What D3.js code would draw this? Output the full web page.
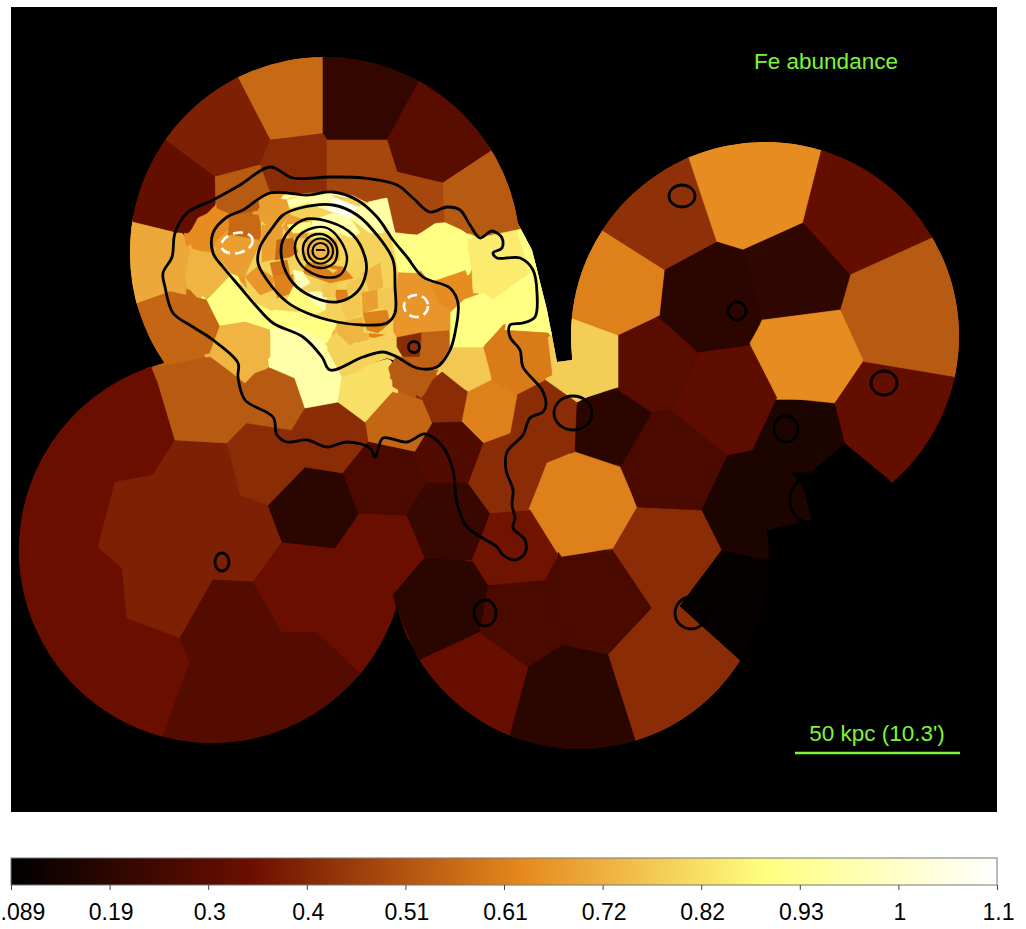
<!DOCTYPE html>
<html><head><meta charset="utf-8">
<script src="https://cdn.jsdelivr.net/npm/d3@7"></script>
<style>html,body{margin:0;padding:0;background:#fff;overflow:hidden}svg{display:block}text{font-family:"Liberation Sans",Arial,sans-serif}</style>
</head><body><svg id="c" width="1026" height="929"></svg>
<script>
const colorTickValues=[0.089,0.1935,0.298,0.4025,0.507,0.6115,0.716,0.8205,0.925,1.0295,1.134];
const colorTickLabels=["0.089","0.19","0.3","0.4","0.51","0.61","0.72","0.82","0.93","1","1.1"];
const rampStops=[0,0.245,0.515,0.765,1];
const rampColors=["#000000","#6c0f00","#e5871c","#ffff80","#ffffff"];

// Fe abundance for each region, same order as cellOutlines
const cellValues=[
.340,.385,.291,.340,.191,.415,.523,.523,.55,.415,.265,
.191,.222,.355,.415,.612,.191,.265,.265,.415,.415,.191,.335,.265,.10,.156,.156,
.312,.30,.78,.612,.425,.638,.325,.523,.191,.20,.638,.325,
.559,.21,.30,.385,.325,.415,.48,.523,.48,.523,
.70,.55,.638,.559,.68,.725,.894,.725,.967,.967,.818,.79,.415,.54,.523,.768,.415,.612,.28,
.845,.894,.894,.894,.60,.638,.894,.66,.90,.967,
.79,.68,.90,.967,1.103,.967,.967,.68,.68,.559,.59,.66,.612,.88,1.0,.612,.612,.725,.79,.768,.768,.768,.725,.768,.68,.80,.725,.612,.80,1.0,.845,.894,.98];
const cellOutlines=[
[[152,330],[152,367],[158,383],[175,440],[153,475],[115,482],[98,547],[122,568],[127,618],[180,638],[190,662],[163,737],[160,770],[0,700],[0,330]],
[[115,482],[153,475],[175,440],[227,443],[240,495],[268,505],[282,542],[253,582],[213,580],[180,638],[127,618],[122,568],[98,547]],
[[213,580],[253,582],[282,632],[317,632],[362,675],[380,770],[160,770],[163,737],[190,662],[180,638]],
[[253,582],[282,542],[335,548],[360,513],[407,515],[425,557],[393,595],[398,613],[410,640],[362,675],[317,632],[282,632]],
[[268,505],[305,467],[343,473],[358,513],[335,548],[282,542]],
[[227,443],[247,423],[292,430],[305,467],[268,505],[240,495]],
[[152,368],[210,357],[237,377],[245,422],[227,443],[175,440],[158,383]],
[[237,380],[270,368],[298,380],[305,408],[292,430],[247,423],[245,395]],
[[365,422],[392,392],[422,400],[432,423],[415,452],[368,442]],
[[292,430],[305,408],[338,402],[365,422],[368,442],[343,473],[305,467]],
[[368,442],[415,452],[427,483],[407,515],[358,513],[343,473]],
[[393,595],[425,558],[473,562],[490,585],[480,632],[420,660],[398,613]],
[[407,515],[427,483],[468,483],[490,513],[472,560],[425,558]],
[[490,513],[530,510],[558,555],[545,580],[488,585],[472,560],[483,533]],
[[517,395],[546,380],[577,400],[577,450],[547,463],[528,510],[490,513],[468,483],[483,443],[510,433]],
[[547,463],[575,452],[620,467],[637,507],[613,548],[562,557],[530,508]],
[[577,405],[613,387],[652,413],[622,465],[575,450]],
[[622,465],[652,413],[670,410],[727,455],[702,510],[637,507]],
[[562,557],[613,550],[652,608],[608,655],[562,645],[550,583]],
[[613,550],[637,508],[702,512],[722,548],[680,606],[652,608]],
[[652,608],[680,606],[742,662],[760,680],[760,730],[640,770],[635,740],[608,655]],
[[562,645],[608,655],[635,740],[640,770],[500,770],[510,733],[528,667]],
[[420,660],[480,632],[528,667],[510,733],[500,770],[395,700]],
[[480,632],[488,587],[550,582],[562,645],[528,667]],
[[722,550],[775,562],[770,607],[740,660],[680,606]],
[[728,455],[752,450],[790,472],[803,487],[812,520],[773,528],[775,562],[722,550],[702,510]],
[[773,400],[835,400],[845,443],[810,473],[790,472],[752,450]],
[[677,400],[698,352],[750,345],[777,397],[752,450],[727,455],[672,410]],
[[618,335],[658,317],[698,352],[677,403],[653,413],[618,388]],
[[572,318],[618,335],[618,387],[587,397],[577,402],[546,380],[545,340]],
[[590,220],[602,230],[665,270],[660,315],[618,335],[572,318],[550,310]],
[[680,130],[688,155],[717,242],[665,270],[602,230],[570,210]],
[[680,130],[830,120],[822,148],[803,223],[743,250],[717,242],[688,155]],
[[830,120],[960,225],[932,238],[850,275],[803,223],[822,148]],
[[932,238],[970,225],[980,385],[953,377],[863,362],[840,310],[850,275]],
[[665,270],[717,242],[743,250],[763,317],[750,345],[698,352],[660,315]],
[[743,250],[803,223],[850,275],[840,310],[763,320]],
[[750,343],[763,320],[840,310],[863,360],[835,403],[777,397]],
[[863,362],[953,377],[980,385],[900,500],[890,480],[845,443],[835,403]],
[[225,40],[323,30],[323,133],[270,140],[238,78]],
[[323,30],[440,43],[418,83],[387,140],[327,140],[323,133]],
[[440,43],[520,130],[488,153],[442,183],[397,172],[387,140],[418,83]],
[[225,40],[238,78],[270,140],[260,165],[213,177],[165,140],[130,110]],
[[130,110],[165,140],[215,177],[215,205],[188,233],[173,232],[132,222],[100,215]],
[[270,140],[323,134],[327,140],[327,192],[305,193],[270,193],[263,173],[260,165]],
[[327,140],[387,140],[397,172],[383,188],[383,198],[368,203],[353,195],[333,193],[327,192]],
[[215,177],[260,165],[270,193],[258,200],[260,210],[233,215],[217,208]],
[[397,172],[443,183],[445,222],[435,223],[417,235],[395,232],[383,198],[383,188]],
[[488,153],[520,130],[540,230],[518,232],[480,238],[445,222],[443,183]],
[[100,220],[132,222],[173,232],[190,250],[185,273],[186,296],[170,291],[138,303],[110,310]],
[[138,303],[172,292],[207,300],[220,326],[210,353],[163,363],[150,340]],
[[190,233],[198,218],[215,210],[227,215],[230,227],[215,240],[213,253],[202,252],[192,248]],
[[230,222],[245,215],[260,215],[265,225],[258,242],[235,240],[228,235]],
[[213,253],[230,235],[258,240],[262,262],[250,280],[228,272],[213,268]],
[[193,250],[213,253],[232,273],[207,300],[185,275]],
[[230,277],[245,292],[272,297],[287,320],[270,330],[245,322],[220,326],[207,300]],
[[220,326],[245,322],[270,330],[270,357],[245,383],[237,377],[210,353]],
[[270,330],[295,327],[335,324],[327,342],[303,363],[293,373],[275,367]],
[[293,373],[323,343],[342,377],[338,402],[305,408]],
[[342,377],[387,365],[392,382],[392,392],[365,422],[338,402]],
[[325,342],[337,332],[357,343],[393,333],[403,357],[387,352],[363,360],[342,377]],
[[397,335],[422,332],[420,357],[403,357],[397,347]],
[[422,332],[452,328],[455,337],[455,347],[438,368],[423,370],[403,357],[420,357]],
[[403,357],[423,370],[438,370],[422,398],[390,378],[392,373]],
[[450,347],[483,347],[492,380],[468,392],[438,368]],
[[422,397],[445,377],[468,392],[462,422],[433,423]],
[[462,422],[468,392],[492,380],[517,395],[510,433],[483,443]],
[[415,452],[433,423],[462,422],[483,443],[468,483],[430,482],[417,463]],
[[467,240],[517,230],[533,273],[493,300],[483,293],[473,293],[472,270]],
[[517,230],[540,225],[570,340],[550,335],[530,273]],
[[463,300],[483,293],[493,300],[507,320],[483,347],[450,347],[450,330],[450,313]],
[[493,300],[530,273],[545,320],[552,333],[505,330],[507,320]],
[[485,345],[500,330],[547,333],[552,375],[520,390],[492,380]],
[[430,282],[465,270],[473,292],[463,300],[450,312],[438,303]],
[[417,235],[443,223],[468,242],[465,270],[430,282],[420,273]],
[[398,272],[420,270],[430,283],[438,303],[450,310],[450,330],[422,332],[397,337],[390,327],[393,307]],
[[387,233],[417,235],[420,273],[398,272],[385,270],[370,255]],
[[368,202],[387,198],[395,233],[385,233],[370,223]],
// centre mosaic
[[260,210],[290,198],[333,195],[370,203],[390,232],[398,272],[393,307],[393,335],[337,330],[290,320],[250,300],[245,277],[262,240]],
[[258,210],[268,197],[287,200],[290,215],[280,227],[270,227],[260,220]],
[[273,310],[307,313],[337,323],[327,343],[297,327],[272,330]],
[[287,200],[300,197],[333,195],[327,210],[308,203],[290,208]],
[[333,197],[358,207],[350,218],[327,210]],
[[358,207],[370,203],[385,220],[383,233],[370,233],[350,218]],
[[333,213],[350,218],[360,233],[350,238],[335,235]],
[[262,225],[283,227],[280,258],[262,262]],
[[290,215],[310,222],[307,238],[290,238],[283,227]],
[[277,240],[293,238],[298,252],[290,257],[275,260]],
[[270,263],[287,260],[290,275],[273,275]],
[[245,277],[257,267],[273,277],[273,290],[260,295]],
[[273,275],[293,275],[293,293],[277,298]],
[[293,287],[310,293],[325,310],[310,317],[287,300]],
[[307,290],[327,293],[325,310],[310,300]],
[[333,290],[347,290],[348,300],[338,302]],
[[363,313],[387,310],[390,323],[378,333],[367,330]],
[[337,323],[363,317],[363,337],[350,345],[337,333]],
[[307,287],[327,280],[323,290],[308,292]],
[[322,285],[337,280],[335,297],[323,297]],
[[347,283],[360,277],[367,292],[357,297],[348,293]],
[[343,300],[360,297],[363,313],[347,320],[342,310]],
[[363,273],[380,263],[383,287],[370,293]],
[[377,290],[393,288],[395,310],[378,308]],
[[362,293],[377,290],[378,308],[363,313]],
[[337,233],[357,240],[360,260],[340,267]],
[[307,240],[337,240],[340,260],[303,260]],
[[307,262],[343,267],[353,278],[330,283],[303,273]],
[[327,268],[337,270],[333,273]],
[[293,270],[303,272],[310,283],[298,290]],
[[320,230],[337,232],[342,237],[313,237]],
[[287,225],[310,222],[313,232],[293,233]],
[[313,220],[333,213],[337,230],[310,232]],
[[316,249],[324,249],[326,251],[316,251]]
];
// regions that border the empty part of the field and get no gap filling
const edgeCells=[20,24,25,26,38,34,29,30,31,71,69];

// Outlines of the four exposures that bound the mosaic
const fieldX=[325,212,580,765];
const fieldY=[252,550,560,336];
const fieldR=[195,193,189,194];
const seamOutline=[[300,300],[500,215],[517,222],[532,250],[547,310],[557,362],[572,360],[572,318],[618,335],[618,400],[520,420],[400,560],[300,450]];

// Surface-brightness contours
const contourLines=[
[[270,167],[293,178],[330,177],[363,178],[397,185],[413,198],[430,212],[447,207],[460,210],[470,225],[480,238],[492,231],[502,238],[502,248],[493,253],[497,258],[520,258],[533,270],[537,293],[535,317],[523,323],[510,325],[510,337],[520,350],[523,367],[542,390],[546,405],[543,412],[530,418],[523,435],[507,452],[506,470],[513,490],[512,505],[515,518],[513,528],[525,540],[525,553],[515,560],[503,555],[497,547],[467,527],[457,503],[453,470],[443,447],[425,434],[407,442],[383,438],[378,450],[375,457],[370,448],[347,442],[327,447],[307,440],[287,442],[277,435],[273,417],[245,400],[238,377],[238,363],[213,340],[193,327],[173,313],[165,287],[163,273],[172,257],[175,233],[187,213],[213,200],[240,185]],
[[270,193],[307,195],[333,192],[357,200],[377,217],[393,240],[407,257],[423,277],[450,288],[458,303],[455,333],[450,350],[437,367],[417,368],[397,357],[383,352],[363,357],[330,370],[322,357],[303,337],[273,323],[257,307],[240,287],[223,267],[213,253],[213,233],[227,217],[243,210]],
[[300,208],[333,205],[357,215],[377,235],[393,260],[395,287],[395,313],[387,323],[363,325],[337,322],[307,313],[287,302],[267,280],[258,263],[260,247],[273,227],[283,215]],
[[303,220],[330,222],[353,235],[365,257],[366,273],[357,292],[337,302],[313,297],[293,283],[282,260],[283,240]],
[[313,228],[327,228],[340,240],[347,260],[340,275],[323,277],[303,267],[295,250],[298,237]],
[[320,234],[330,238],[337,249],[334,263],[320,268],[307,262],[303,248],[308,238]]
];
const ringX=[320.5,320.5,414,222,485,691,573,786,737,884,682,808];
const ringY=[251,251,347,562,613,613,413,429,311,383,196,500];
const ringRx=[12.5,8,5.5,7,11,16,19,12,9,13,13,18];
const ringRy=[12.5,8,5.5,9,13,16,17,13,9,12,11,22];
const lowFeX=[237,416];
const lowFeY=[243,306];
const lowFeRx=[16,12];
const lowFeRy=[10,11];
const lowFeTilt=[-14,0];

const title="Fe abundance";
const scaleLabel="50 kpc (10.3')";
const scaleBarX=[795,960];
const scaleBarY=[753,753];

const x=d3.scaleLinear().domain([11,997]).range([11,997]);
const y=d3.scaleLinear().domain([7,812]).range([7,812]);
const ramp=d3.scaleLinear().domain(rampStops).range(rampColors).interpolate(d3.interpolateRgb);
const vScale=d3.scaleLinear().domain([colorTickValues[0],colorTickValues[10]]);
const color=v=>ramp(vScale(v));
const r=d3.scaleLinear().domain([0,986]).range([0,986]);

const svg=d3.select("#c");
const defs=svg.append("defs");
const clip=defs.append("clipPath").attr("id","fields");
clip.selectAll("circle").data(fieldX).join("circle")
 .attr("cx",d=>x(d)).attr("cy",(d,i)=>y(fieldY[i])).attr("r",(d,i)=>r(fieldR[i]));
const polyLine=d3.line().x(d=>x(d[0])).y(d=>y(d[1]));
clip.append("path").attr("d",polyLine(seamOutline)+"Z");
const frame=defs.append("clipPath").attr("id","frame");
frame.append("rect").attr("x",x(11)).attr("y",y(7)).attr("width",x(997)-x(11)).attr("height",y(812)-y(7));

svg.append("rect").attr("x",x(11)).attr("y",y(7)).attr("width",x(997)-x(11)).attr("height",y(812)-y(7)).attr("fill","#000");

const mosaic=svg.append("g").attr("clip-path","url(#fields)");
mosaic.append("g").selectAll("path").data(cellOutlines).join("path")
 .attr("d",d=>polyLine(d)+"Z")
 .attr("fill",(d,i)=>color(cellValues[i]))
 .attr("stroke",(d,i)=>color(cellValues[i]))
 .attr("stroke-linejoin","round")
 .attr("stroke-width",(d,i)=>edgeCells.includes(i)?0:12);
mosaic.append("g").selectAll("path").data(cellOutlines).join("path")
 .attr("d",d=>polyLine(d)+"Z")
 .attr("fill",(d,i)=>color(cellValues[i]))
 .attr("stroke",(d,i)=>color(cellValues[i])).attr("stroke-width",0.6);

const g=svg.append("g").attr("clip-path","url(#frame)");
const smooth=d3.line().x(d=>x(d[0])).y(d=>y(d[1])).curve(d3.curveCatmullRomClosed.alpha(0.5));
g.selectAll("path.ct").data(contourLines).join("path").attr("class","ct")
 .attr("d",smooth).attr("fill","none").attr("stroke","#000").attr("stroke-width",(d,i)=>i>3?2.4:2.8);
g.selectAll("ellipse.ring").data(ringX).join("ellipse").attr("class","ring")
 .attr("cx",d=>x(d)).attr("cy",(d,i)=>y(ringY[i])).attr("rx",(d,i)=>r(ringRx[i])).attr("ry",(d,i)=>r(ringRy[i]))
 .attr("fill","none").attr("stroke","#000").attr("stroke-width",(d,i)=>i<2?2.2:2.8);
g.selectAll("ellipse.low").data(lowFeX).join("ellipse").attr("class","low")
 .attr("cx",d=>x(d)).attr("cy",(d,i)=>y(lowFeY[i])).attr("rx",(d,i)=>r(lowFeRx[i])).attr("ry",(d,i)=>r(lowFeRy[i]))
 .attr("transform",(d,i)=>`rotate(${lowFeTilt[i]} ${x(d)} ${y(lowFeY[i])})`)
 .attr("fill","none").attr("stroke","#fff").attr("stroke-width",2.6).attr("stroke-dasharray","10 5");

const green="#7cf53a";
svg.append("text").attr("x",x(826)).attr("y",y(69)).attr("text-anchor","middle").attr("font-size",22.5).attr("fill",green).text(title);
svg.append("text").attr("x",x(877)).attr("y",y(741)).attr("text-anchor","middle").attr("font-size",22.5).attr("fill",green).text(scaleLabel);
svg.append("line").attr("x1",x(scaleBarX[0])).attr("x2",x(scaleBarX[1])).attr("y1",y(scaleBarY[0])).attr("y2",y(scaleBarY[1])).attr("stroke",green).attr("stroke-width",2.5);

// colour bar
const barScale=d3.scaleLinear().domain([colorTickValues[0],colorTickValues[10]]).range([11,997]);
const gradId="bar";
const grad=defs.append("linearGradient").attr("id",gradId);
grad.selectAll("stop").data(rampStops).join("stop").attr("offset",d=>d).attr("stop-color",(d,i)=>rampColors[i]);
svg.append("rect").attr("x",11).attr("y",858).attr("width",986).attr("height",27).attr("fill",`url(#${gradId})`).attr("stroke","#777").attr("stroke-width",1);
const axis=d3.axisBottom(barScale).tickValues(colorTickValues).tickFormat((d,i)=>colorTickLabels[i]).tickSize(5).tickPadding(14);
const ag=svg.append("g").attr("transform","translate(0,885)").call(axis);
ag.select(".domain").remove();
ag.selectAll("line").attr("stroke","#444");
ag.selectAll("text").attr("font-size",23).attr("fill","#000").attr("font-family","Liberation Sans").attr("dx",(d,i)=>i===0?5:1);
</script></body></html>
